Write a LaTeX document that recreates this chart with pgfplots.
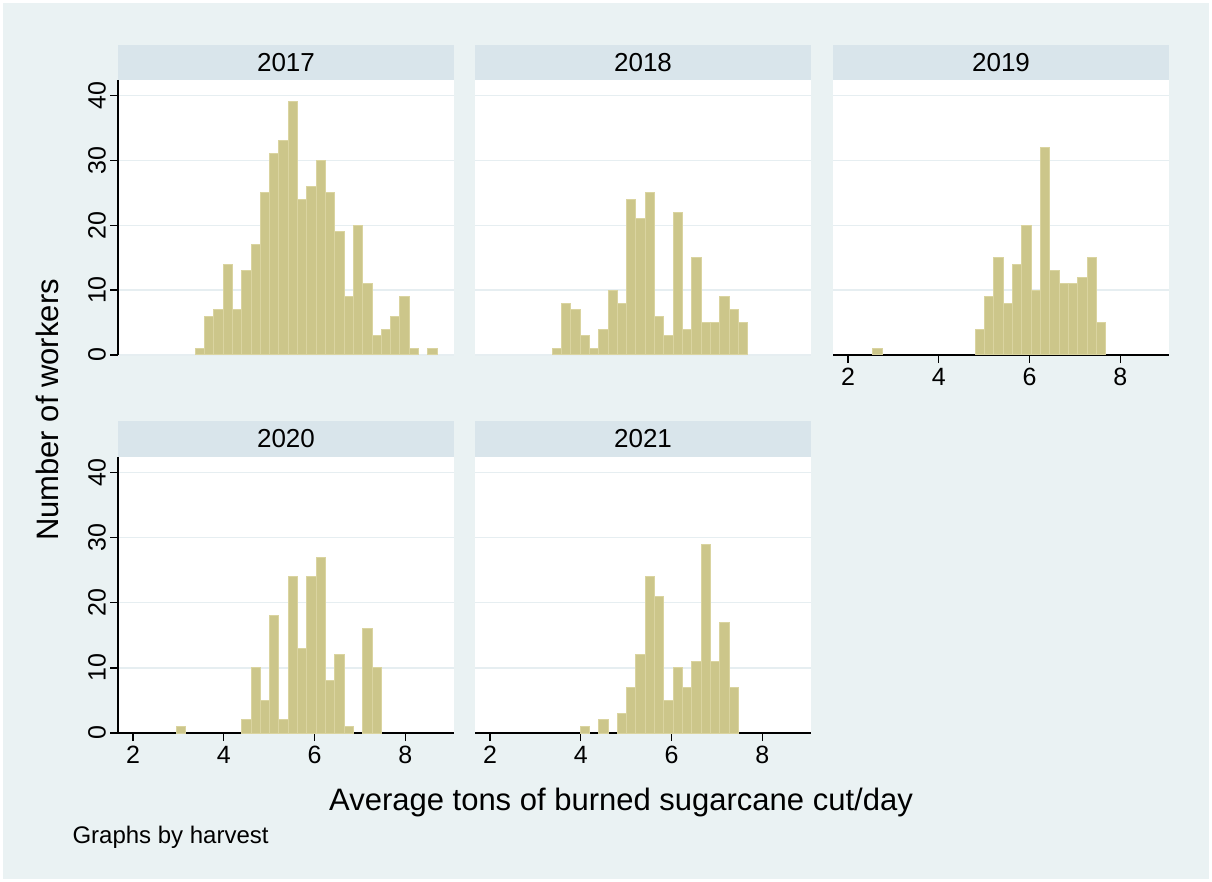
\documentclass[border=0pt]{standalone}
\usepackage{fontspec}
\setmainfont{Liberation Sans}
\usepackage{pgfplots}
\usepackage{pgfplotstable}
\pgfplotsset{compat=1.18}

\definecolor{bgcol}{RGB}{234,242,243}
\definecolor{stripcol}{RGB}{217,229,235}
\definecolor{gridcol}{RGB}{230,238,241}
\definecolor{barfill}{RGB}{204,198,138}
\definecolor{barline}{RGB}{218,212,160}

% bin centres (width 0.205, first edge 2.55) and counts by harvest
\pgfplotstableread{
center y2017 y2018 y2019 y2020 y2021
2.6525  0  0  1  0  0
2.8575  0  0  0  0  0
3.0625  0  0  0  1  0
3.2675  0  0  0  0  0
3.4725  1  1  0  0  0
3.6775  6  8  0  0  0
3.8825  7  7  0  0  0
4.0875 14  3  0  0  1
4.2925  7  1  0  0  0
4.4975 13  4  0  2  2
4.7025 17 10  0 10  0
4.9075 25  8  4  5  3
5.1125 31 24  9 18  7
5.3175 33 21 15  2 12
5.5225 39 25  8 24 24
5.7275 24  6 14 13 21
5.9325 26  3 20 24  5
6.1375 30 22 10 27 10
6.3425 25  4 32  8  7
6.5475 19 15 13 12 11
6.7525  9  5 11  1 29
6.9575 20  5 11  0 11
7.1625 11  9 12 16 17
7.3675  3  7 15 10  7
7.5725  4  5  5  0  0
7.7775  6  0  0  0  0
7.9825  9  0  0  0  0
8.1875  1  0  0  0  0
8.3925  0  0  0  0  0
8.5975  1  0  0  0  0
}\hist

\pgfplotsset{
  panel/.style={
    scale only axis, width=336pt, height=275pt,
    xmin=1.67, xmax=9.07, ymin=0, ymax=42.37,
    axis background/.style={fill=white},
    axis x line=bottom, axis y line=left,
    axis line style={-, black, line width=1.3pt},
    ytick={0,10,20,30,40}, ymajorgrids,
    grid style={gridcol, line width=1.3pt},
    xtick={2,4,6,8},
    tick align=outside, major tick length=8pt,
    tick style={black, line width=1.3pt},
    every tick label/.append style={font=\fontsize{25}{30}\selectfont},
    /pgf/number format/assume math mode=true,
    yticklabel style={rotate=90, anchor=south, inner sep=4pt},
    xticklabel style={inner sep=5pt},
  },
  notx/.style={xtick=\empty, x axis line style={draw=none}},
  noty/.style={yticklabels={}, y axis line style={draw=none}, ytick style={draw=none}},
  bars/.style={ybar, bar width=0.205, bar shift=0pt, fill=barfill,
    draw=barline, line width=1pt, restrict y to domain=0.5:100},
}

\begin{document}
\begin{tikzpicture}[x=1pt,y=1pt]
  % graph region
  \fill[white] (0pt,0pt) rectangle (1212pt,-882pt);
  \fill[bgcol] (3pt,-3pt) rectangle (1209pt,-879pt);

  % by-group title strips
  \foreach \xx/\yy/\lab in {118/45/2017, 475/45/2018, 833/45/2019, 118/421/2020, 475/421/2021}{
    \fill[stripcol] (\xx pt,-\yy pt) rectangle ++(336pt,-35.5pt);
    \node[font=\fontsize{26}{31}\selectfont] at (\xx pt+168pt,-\yy pt-17.5pt) {\lab};
  }

  % 2017
  \begin{axis}[panel, notx, at={(118pt,-355pt)}, anchor=south west]
    \addplot[bars] table[x=center, y=y2017] {\hist};
  \end{axis}
  % 2018
  \begin{axis}[panel, notx, noty, at={(475pt,-355pt)}, anchor=south west]
    \addplot[bars] table[x=center, y=y2018] {\hist};
  \end{axis}
  % 2019
  \begin{axis}[panel, noty, at={(833pt,-355pt)}, anchor=south west]
    \addplot[bars] table[x=center, y=y2019] {\hist};
  \end{axis}
  % 2020
  \begin{axis}[panel, height=276pt, at={(118pt,-733pt)}, anchor=south west]
    \addplot[bars] table[x=center, y=y2020] {\hist};
  \end{axis}
  % 2021
  \begin{axis}[panel, height=276pt, noty, at={(475pt,-733pt)}, anchor=south west]
    \addplot[bars] table[x=center, y=y2021] {\hist};
  \end{axis}

  % shared titles and note
  \node[rotate=90, font=\fontsize{31}{36}\selectfont] at (47pt,-410pt) {Number of workers};
  \node[font=\fontsize{31}{36}\selectfont] at (621pt,-802pt) {Average tons of burned sugarcane cut/day};
  \node[anchor=base west, font=\fontsize{24}{28}\selectfont] at (69pt,-843pt) {Graphs by harvest};
\end{tikzpicture}
\end{document}
